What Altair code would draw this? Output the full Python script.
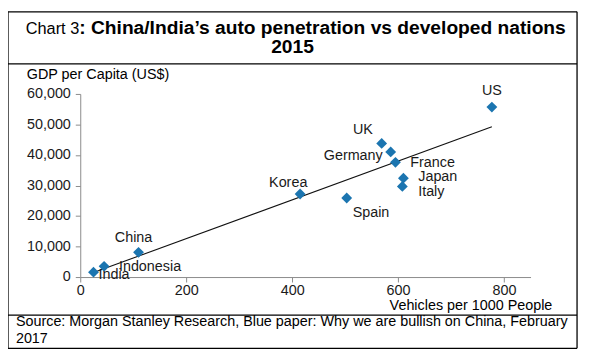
import altair as alt
import pandas as pd

countries = ["India", "Indonesia", "China", "Korea", "Spain", "UK", "Germany",
             "France", "Japan", "Italy", "US"]
vehicles = [25, 45, 110, 415, 503, 569, 586, 595, 610, 608, 777]
gdp = [1600, 3500, 8100, 27200, 25900, 43800, 41000, 37600, 32400, 29700, 55700]

x_ticks = [0, 200, 400, 600, 800]
y_ticks = [0, 10000, 20000, 30000, 40000, 50000, 60000]

title_regular = "Chart 3"
title_bold = ": China/India\u2019s auto penetration vs developed nations"
title_line2 = "2015"
x_title = "Vehicles per 1000 People"
y_title = "GDP per Capita (US$)"
source_lines = ["Source: Morgan Stanley Research, Blue paper: Why we are bullish on China, February",
                "2017"]

df = pd.DataFrame({"country": countries, "vehicles": vehicles, "gdp": gdp})

FONT = "Liberation Sans"
BLUE = "#1b75b0"
W, H = 455, 185

xs = alt.X("vehicles:Q", scale=alt.Scale(domain=[0, 850], nice=False),
           axis=alt.Axis(values=x_ticks, title=None, grid=False, labelFlush=False,
                         labelOverlap=False,
                         domainColor="#8c8c8c", tickColor="#8c8c8c", tickSize=5,
                         labelFontSize=14.5, labelColor="#1a1a1a", labelFont=FONT,
                         labelPadding=2))
ys = alt.Y("gdp:Q", scale=alt.Scale(domain=[0, 60000], nice=False),
           axis=alt.Axis(values=y_ticks, format=",.0f", title=None, grid=False,
                         labelOverlap=False, labelFlush=False,
                         domainColor="#8c8c8c", tickColor="#8c8c8c", tickSize=5,
                         labelFontSize=14.5, labelColor="#1a1a1a", labelFont=FONT,
                         labelPadding=5))

base = alt.Chart(df)

points = base.mark_point(shape="diamond", filled=True, size=120, color=BLUE,
                         opacity=1).encode(x=xs, y=ys)

trend = base.transform_regression("vehicles", "gdp").mark_line(
    color="#111111", strokeWidth=1.1).encode(x=xs, y=ys)


def labels(names, align, dx, dy):
    return base.transform_filter(
        alt.FieldOneOfPredicate(field="country", oneOf=names)
    ).mark_text(align=align, baseline="middle", dx=dx, dy=dy, font=FONT,
                fontSize=14.5, color="#1a1a1a").encode(
        x=xs, y=ys, text="country:N")


label_layers = [
    labels(["US"], "center", 0, -16),
    labels(["UK"], "center", -19, -13),
    labels(["Germany"], "right", -8, 4),
    labels(["France"], "left", 15, 1),
    labels(["Japan"], "left", 15, -1),
    labels(["Italy"], "left", 16, 6),
    labels(["Spain"], "left", 6, 15),
    labels(["Korea"], "center", -12, -11),
    labels(["China"], "center", -5, -14),
    labels(["Indonesia"], "left", 15, 1),
    labels(["India"], "left", 5, 3),
]

one = alt.Data(values=[{}])


def rule(x1, x2, y1, y2):
    return alt.Chart(one).mark_rule(color="#000000", strokeWidth=1.3).encode(
        x=alt.value(x1), x2=alt.value(x2), y=alt.value(y1), y2=alt.value(y2))


L, R, T, B = -73, 502, -83, 257
frame = [
    rule(L, R, T, T), rule(L, R, -30.5, -30.5), rule(L, R, 223.5, 223.5),
    rule(L, R, B, B), rule(L, L, T, B), rule(R, R, T, B),
]


def txt(text, x, y, align="left", size=14.5, weight="normal", font=FONT):
    return alt.Chart(one).mark_text(
        text=text, align=align, baseline="alphabetic", fontSize=size,
        fontWeight=weight, font=font, color="#000000").encode(
        x=alt.value(x), y=alt.value(y))


texts = [
    txt(title_regular, -1, -61, align="right", size=16.5),
    txt(title_bold, -1, -61, size=19.4, weight="bold"),
    txt(title_line2, 214.5, -41, align="center", size=19.4, weight="bold"),
    txt(y_title, -54, -15, size=14.5),
    txt(x_title, 477, 218, align="right", size=14.5),
    txt(source_lines[0], -65, 234, size=14.5),
    txt(source_lines[1], -65, 252, size=14.5),
]

chart = alt.layer(trend, points, *label_layers, *frame, *texts).properties(
    width=W, height=H,
    autosize=alt.AutoSizeParams(type="none"),
    padding={"left": 73, "top": 85, "right": 52, "bottom": 85},
).configure_view(stroke=None)

chart.save("out.html", embed_options={"renderer": "svg", "actions": False})
